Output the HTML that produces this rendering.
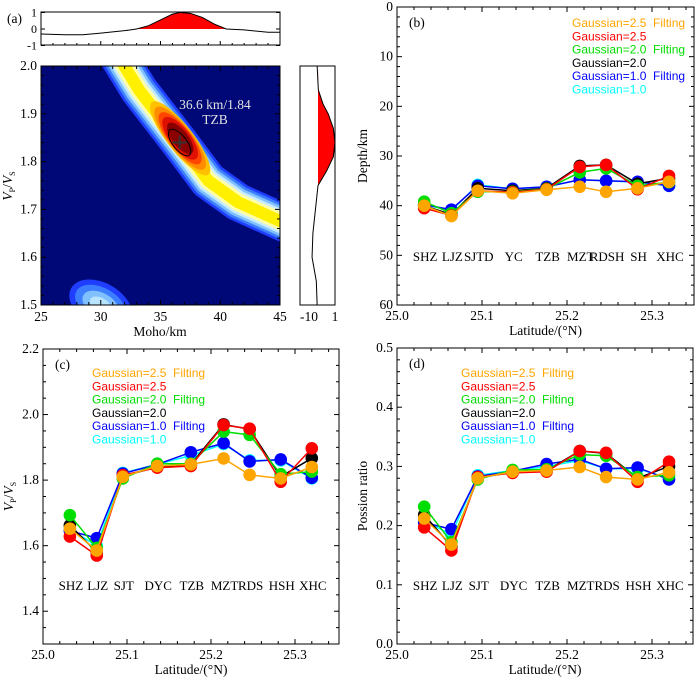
<!DOCTYPE html>
<html><head><meta charset="utf-8"><style>
body{margin:0;background:#fff}
svg{display:block;font-family:"Liberation Serif",serif}
</style></head><body>
<svg id="fig" width="700" height="680" viewBox="0 0 700 680">
<defs><clipPath id="clipA"><rect x="41" y="66" width="239" height="239"/></clipPath></defs>
<g id="panelA"></g>
<g id="panelB"></g>
<g id="panelC"></g>
<g id="panelD"></g>
</svg>
<script>
const stations=[25.032,25.064,25.095,25.136,25.176,25.215,25.246,25.283,25.320];
const seriesColors=["#00ffff","#0000ff","#000000","#00dd00","#ff0000","#ffa500"];
const seriesNames=["Gaussian=1.0","Gaussian=1.0\u00a0\u00a0Filting","Gaussian=2.0","Gaussian=2.0\u00a0\u00a0Filting","Gaussian=2.5","Gaussian=2.5\u00a0\u00a0Filting"];
// depth (b): cyan, blue, black, green, red, orange
const depthCyan=[39.8,41,35.8,36.6,36.2,34.8,35,35.3,36];
const depthBlue=[39.8,40.8,36,36.6,36.2,34.8,35,35.2,36];
const depthBlack=[40,41.8,36.5,37,36.5,32,31.8,35.6,34.5];
const depthGreen=[39.2,41.5,37.2,37.2,36.6,33.3,32.5,36,35.3];
const depthRed=[40.5,42,37,37.3,36.7,32.2,31.8,36.7,34];
const depthOrange=[40,42.1,37,37.5,36.8,36.2,37.2,36.5,35.2];
const labelsB=["SHZ","LJZ","SJTD","YC","TZB","MZT","RDSH","SH","XHC"];
// vp/vs (c)
const vpCyan=[1.65,1.6,1.822,1.848,1.875,1.91,1.86,1.86,1.805];
const vpBlue=[1.645,1.623,1.82,1.848,1.885,1.913,1.857,1.863,1.807];
const vpBlack=[1.662,1.58,1.812,1.84,1.848,1.97,1.955,1.81,1.867];
const vpGreen=[1.693,1.593,1.805,1.85,1.85,1.948,1.938,1.818,1.826];
const vpRed=[1.628,1.57,1.815,1.838,1.843,1.968,1.957,1.795,1.897];
const vpOrange=[1.652,1.585,1.81,1.843,1.848,1.866,1.816,1.805,1.84];
const labelsC=["SHZ","LJZ","SJT","DYC","TZB","MZT","RDS","HSH","XHC"];
// poisson (d)
const prCyan=[0.208,0.185,0.285,0.293,0.3,0.31,0.296,0.296,0.28];
const prBlue=[0.205,0.194,0.283,0.292,0.304,0.312,0.296,0.298,0.278];
const prBlack=[0.218,0.165,0.281,0.29,0.293,0.326,0.322,0.28,0.3];
const prGreen=[0.232,0.172,0.278,0.294,0.295,0.32,0.318,0.282,0.285];
const prRed=[0.197,0.158,0.282,0.289,0.291,0.326,0.323,0.274,0.308];
const prOrange=[0.212,0.168,0.28,0.291,0.293,0.299,0.282,0.278,0.29];
const labelsD=["SHZ","LJZ","SJT","DYC","TZB","MZT","RDS","HSH","XHC"];
// panel a marginals
const topKm=[25,27,28.5,30,32,33,34,35,36,36.6,37.5,38.5,39.5,40.5,42,44,45];
const topVal=[-0.3,-0.35,-0.35,-0.25,-0.1,0,0.2,0.55,0.9,1,0.95,0.7,0.3,0,-0.05,-0.2,-0.2];
const sideV=[2.0,1.95,1.92,1.9,1.87,1.84,1.81,1.78,1.75,1.7,1.65,1.6,1.55,1.5];
const sideVal=[-0.05,0.02,0.3,0.6,0.9,1,0.9,0.5,0,-0.15,-0.3,-0.35,-0.1,-0.05];

const NS="http://www.w3.org/2000/svg";
function mk(parent,tag,attrs,txt){const e=document.createElementNS(NS,tag);for(const k in attrs)e.setAttribute(k,attrs[k]);if(txt!==undefined)e.textContent=txt;parent.appendChild(e);return e;}

function linePanel(g,cfg){
  const X=v=>cfg.x0+(v-25.0)/0.1*cfg.dx;
  const Y=v=>cfg.y0+(v-cfg.vmin)/(cfg.vmax-cfg.vmin)*(cfg.y1-cfg.y0);
  const f=mk(g,'rect',{x:cfg.x0,y:Math.min(cfg.y0,cfg.y1),width:cfg.xr-cfg.x0,height:Math.abs(cfg.y1-cfg.y0),fill:'none',stroke:'#000','stroke-width':1});
  
  const top=Math.min(cfg.y0,cfg.y1),bot=Math.max(cfg.y0,cfg.y1);
  for(let t=25.0;t<=25.351;t+=0.02){const x=X(t);const maj=Math.abs(Math.round(t*10)-t*10)<0.01;const l=maj?5:3;
    mk(g,'line',{x1:x,y1:bot,x2:x,y2:bot-l,stroke:'#000'});mk(g,'line',{x1:x,y1:top,x2:x,y2:top+l,stroke:'#000'});
    if(maj&&t<25.34){const tl=mk(g,'text',{x:x,y:bot+15,'text-anchor':'middle','font-size':13.5},t.toFixed(1));}}
  cfg.ticks.forEach(t=>{const y=Y(t);mk(g,'line',{x1:cfg.x0,y1:y,x2:cfg.x0+5,y2:y,stroke:'#000'});mk(g,'line',{x1:cfg.xr,y1:y,x2:cfg.xr-5,y2:y,stroke:'#000'});
    const tl=mk(g,'text',{x:cfg.x0-4,y:y+4,'text-anchor':'end','font-size':13.5},t.toFixed(cfg.dec));});
  cfg.minor.forEach(t=>{const y=Y(t);mk(g,'line',{x1:cfg.x0,y1:y,x2:cfg.x0+3,y2:y,stroke:'#000'});mk(g,'line',{x1:cfg.xr,y1:y,x2:cfg.xr-3,y2:y,stroke:'#000'});});
  const xt=mk(g,'text',{x:(cfg.x0+cfg.xr)/2,y:bot+30,'text-anchor':'middle','font-size':13.5},'Latitude/(°N)');
  
  const yt=mk(g,'text',{transform:`translate(${cfg.x0-30},${(top+bot)/2}) rotate(-90)`,'text-anchor':'middle','font-size':13.5});
  yt.innerHTML=cfg.ytitle;
  const pl=mk(g,'text',{x:cfg.x0+12,y:top+20,'font-size':13.5},cfg.tag);
  cfg.series.forEach((s,i)=>{const pts=s.map((v,j)=>X(stations[j]).toFixed(1)+','+Y(v).toFixed(1)).join(' ');
    const p=mk(g,'polyline',{points:pts,fill:'none',stroke:seriesColors[i],'stroke-width':1.5});
    
    s.forEach((v,j)=>{const c=mk(g,'circle',{cx:X(stations[j]),cy:Y(v),r:6.3,fill:seriesColors[i]});
      });});
  cfg.labels.forEach((l,j)=>{const t=mk(g,'text',{x:X(stations[j])+1,y:cfg.ly,'text-anchor':'middle','font-size':13},l);
    });
  for(let i=5;i>=0;i--){const t=mk(g,'text',{x:cfg.legx,y:cfg.legy+(5-i)*13.3,'font-size':12,'font-family':'Liberation Sans, sans-serif',fill:seriesColors[i]},seriesNames[i]);
    }
}

linePanel(document.getElementById('panelB'),{x0:397,dx:85,xr:694,y0:7,y1:305,vmin:0,vmax:60,ticks:[0,10,20,30,40,50,60],minor:[2,4,6,8,12,14,16,18,22,24,26,28,32,34,36,38,42,44,46,48,52,54,56,58],dec:0,
  ytitle:'Depth/km',tag:'(b)',series:[depthCyan,depthBlue,depthBlack,depthGreen,depthRed,depthOrange],labels:labelsB,ly:261,legx:572,legy:27});
linePanel(document.getElementById('panelC'),{x0:43,dx:84,xr:339,y0:644,y1:349,vmin:1.3,vmax:2.2,ticks:[1.4,1.6,1.8,2.0,2.2],minor:[1.35,1.45,1.5,1.55,1.65,1.7,1.75,1.85,1.9,1.95,2.05,2.1,2.15],dec:1,
  ytitle:'<tspan font-style="italic">V</tspan><tspan font-size="8" dy="3">P</tspan><tspan dy="-3">/</tspan><tspan font-style="italic">V</tspan><tspan font-size="8" dy="3">S</tspan>',tag:'(c)',series:[vpCyan,vpBlue,vpBlack,vpGreen,vpRed,vpOrange],labels:labelsC,ly:590,legx:92,legy:377});
linePanel(document.getElementById('panelD'),{x0:397,dx:85,xr:693,y0:644,y1:348,vmin:0,vmax:0.5,ticks:[0,0.1,0.2,0.3,0.4,0.5],minor:[0.02,0.04,0.06,0.08,0.12,0.14,0.16,0.18,0.22,0.24,0.26,0.28,0.32,0.34,0.36,0.38,0.42,0.44,0.46,0.48],dec:1,
  ytitle:'Possion ratio',tag:'(d)',series:[prCyan,prBlue,prBlack,prGreen,prRed,prOrange],labels:labelsD,ly:590,legx:461,legy:377});

// Panel A
(function(){
  const g=document.getElementById('panelA');
  const KX=k=>41+(k-25)*11.95, VY=v=>66+(2.0-v)*478;
  const hm=mk(g,'g',{'clip-path':'url(#clipA)'});
  mk(hm,'rect',{x:41,y:66,width:239,height:239,fill:'#000878'});
  const band=[[31,2.04],[33.2,1.95],[36.6,1.84],[39,1.76],[41.5,1.715],[45.5,1.67]];
  const d='M'+band.map(p=>KX(p[0]).toFixed(1)+','+VY(p[1]).toFixed(1)).join(' L');
  [[38,'#1f3dff'],[33,'#3d7dff'],[28,'#80c0ff'],[23,'#c8ecff'],[18,'#ffffa8'],[12,'#fff000']].forEach(a=>mk(hm,'path',{d:d,fill:'none',stroke:a[1],'stroke-width':a[0],'stroke-linejoin':'round','stroke-linecap':'round'}));
  const cx=KX(36.6),cy=VY(1.84);
  [[46,13,'#ffc000'],[39,12,'#ff8c00'],[32,11,'#ff4500'],[26,10,'#e01000'],[19,8,'#8b0000']].forEach(a=>mk(hm,'ellipse',{cx:cx-3,cy:cy-3,rx:a[0],ry:a[1],fill:a[2],transform:`rotate(52 ${cx} ${cy})`}));
  mk(hm,'ellipse',{cx:cx,cy:cy,rx:16,ry:7,fill:'none',stroke:'#000','stroke-width':1,transform:`rotate(52 ${cx} ${cy})`});
  mk(hm,'path',{d:`M${cx-7},${cy} h14 M${cx},${cy-7} v14`,stroke:'#333','stroke-width':2});
  const bx=KX(30),by=VY(1.5);
  [[34,22,'#1f3dff'],[28,17,'#3d7dff'],[20,12,'#80c0ff'],[12,7,'#b8e4ff']].forEach(a=>mk(hm,'ellipse',{cx:bx,cy:by,rx:a[0],ry:a[1],fill:a[2],transform:`rotate(30 ${bx} ${by})`}));
  mk(g,'text',{x:215,y:109,'text-anchor':'middle','font-size':13.5,fill:'#e0e0e0'},'36.6 km/1.84');
  mk(g,'text',{x:215,y:124,'text-anchor':'middle','font-size':13.5,fill:'#e0e0e0'},'TZB');
  mk(g,'rect',{x:41,y:66,width:239,height:239,fill:'none',stroke:'#000'});
  for(let k=25;k<=45;k++){const x=KX(k),l=k%5==0?5:3;mk(g,'line',{x1:x,y1:305,x2:x,y2:305-l,stroke:'#000'});mk(g,'line',{x1:x,y1:66,x2:x,y2:66+l,stroke:'#000'});
    if(k%5==0){mk(g,'text',{x:x,y:321,'text-anchor':'middle','font-size':13.5},k);}}
  for(let i=0;i<=25;i++){const v=1.5+i*0.02,y=VY(v),l=i%5==0?5:3;mk(g,'line',{x1:41,y1:y,x2:41+l,y2:y,stroke:'#000'});mk(g,'line',{x1:280,y1:y,x2:280-l,y2:y,stroke:'#000'});
    if(i%5==0){mk(g,'text',{x:37,y:y+4,'text-anchor':'end','font-size':13.5},v.toFixed(1));}}
  mk(g,'text',{x:160,y:336,'text-anchor':'middle','font-size':13.5},'Moho/km');
  const yt=mk(g,'text',{transform:'translate(12,186) rotate(-90)','text-anchor':'middle','font-size':13.5});
  yt.innerHTML='<tspan font-style="italic">V</tspan><tspan font-size="8" dy="3">P</tspan><tspan dy="-3">/</tspan><tspan font-style="italic">V</tspan><tspan font-size="8" dy="3">S</tspan>';
  
  // top marginal
  const TY=v=>29-v*16.5;
  mk(g,'rect',{x:41,y:12,width:239,height:33,fill:'none',stroke:'#000'});
  const tp=topKm.map((k,i)=>[KX(k),TY(topVal[i])]);
  const fillPts=topKm.map((k,i)=>[KX(k),TY(Math.max(0,topVal[i]))]);
  mk(g,'path',{d:'M'+fillPts.map(p=>p.join(',')).join(' L')+' Z',fill:'#ff0000'});
  mk(g,'polyline',{points:tp.map(p=>p.join(',')).join(' '),fill:'none',stroke:'#000','stroke-width':1});
  [1,0,-1].forEach(v=>{mk(g,'text',{x:37,y:TY(v)+4,'text-anchor':'end','font-size':12},v);mk(g,'line',{x1:41,y1:TY(v),x2:45,y2:TY(v),stroke:'#000'});mk(g,'line',{x1:280,y1:TY(v),x2:276,y2:TY(v),stroke:'#000'});});
  for(let k=25;k<=45;k++){const x=KX(k),l=k%5==0?4:2;mk(g,'line',{x1:x,y1:45,x2:x,y2:45-l,stroke:'#000'});}
  mk(g,'text',{x:7,y:23,'font-size':13.5},'(a)');
  // side marginal
  const SX=v=>318+v*17;
  mk(g,'rect',{x:300,y:66,width:35,height:239,fill:'none',stroke:'#000'});
  const sp=sideV.map((v,i)=>[SX(sideVal[i]),VY(v)]);
  const sf=sideV.map((v,i)=>[SX(Math.max(0,sideVal[i])),VY(v)]);
  mk(g,'path',{d:'M'+sf.map(p=>p.join(',')).join(' L')+' Z',fill:'#ff0000'});
  mk(g,'polyline',{points:sp.map(p=>p.join(',')).join(' '),fill:'none',stroke:'#000'});
  mk(g,'text',{x:309,y:321,'text-anchor':'middle','font-size':13.5},'-10');
  mk(g,'text',{x:335,y:321,'text-anchor':'middle','font-size':13.5},'1');
})();
</script>
</body></html>
